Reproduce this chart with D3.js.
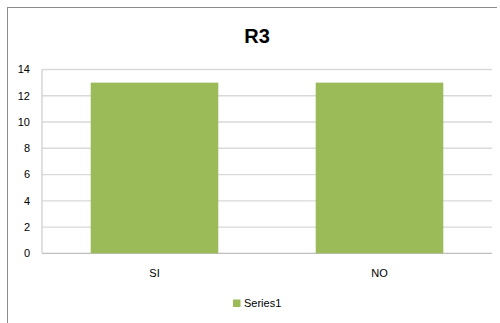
<!DOCTYPE html>
<html>
<head>
<meta charset="utf-8">
<script src="https://cdn.jsdelivr.net/npm/d3@7"></script>
<style>
  body { margin: 0; background: #fff; }
  svg { display: block; }
</style>
</head>
<body>
<script>
// chart data
var categories = ["SI", "NO"];
var values = [13, 13];
var yTicks = [0, 2, 4, 6, 8, 10, 12, 14];
var seriesName = "Series1";
var title = "R3";

var width = 500, height = 323;
var margin = {top: 69.5, left: 42, right: 8, bottom: 69.7};
var font = "Liberation Sans, Arial, sans-serif";

var svg = d3.select("body").append("svg")
  .attr("width", width).attr("height", height);

// outer chart frame (only top and left visible in the crop)
svg.append("line").attr("x1", 7).attr("y1", 7.5).attr("x2", 497).attr("y2", 7.5)
  .attr("stroke", "#8c8c8c").attr("stroke-width", 1);
svg.append("line").attr("x1", 7.5).attr("y1", 7).attr("x2", 7.5).attr("y2", height)
  .attr("stroke", "#8c8c8c").attr("stroke-width", 1);

var x = d3.scaleBand().domain(categories)
  .range([margin.left, width - margin.right])
  .paddingInner(0.433).paddingOuter(0.2165);
var y = d3.scaleLinear().domain([0, 14])
  .range([height - margin.bottom, margin.top]);

// gridlines
svg.selectAll("line.grid").data(yTicks).enter().append("line")
  .attr("class", "grid")
  .attr("x1", margin.left).attr("x2", width - margin.right)
  .attr("y1", d => y(d)).attr("y2", d => y(d))
  .attr("stroke", d => d == 0 ? "#bfbfbf" : "#d9d9d9")
  .attr("stroke-width", 1.3);

// left axis line
svg.append("line").attr("x1", margin.left).attr("x2", margin.left)
  .attr("y1", y(14)).attr("y2", y(0))
  .attr("stroke", "#d0d0d0").attr("stroke-width", 1.3);

// bars
svg.selectAll("rect.bar").data(values).enter().append("rect")
  .attr("class", "bar")
  .attr("x", (d, i) => x(categories[i]))
  .attr("width", x.bandwidth())
  .attr("y", d => y(d))
  .attr("height", d => y(0) - y(d))
  .attr("fill", "#9bbb59");

// y tick labels
svg.selectAll("text.ytick").data(yTicks).enter().append("text")
  .attr("class", "ytick")
  .attr("x", 30).attr("y", d => y(d))
  .attr("dy", "0.36em")
  .attr("text-anchor", "end")
  .attr("font-family", font).attr("font-size", "11px")
  .attr("fill", "#000")
  .text(d => d);

// x labels
svg.selectAll("text.xlab").data(categories).enter().append("text")
  .attr("class", "xlab")
  .attr("x", d => x(d) + x.bandwidth() / 2)
  .attr("y", y(0) + 20)
  .attr("dy", "0.36em")
  .attr("text-anchor", "middle")
  .attr("font-family", font).attr("font-size", "11px")
  .attr("fill", "#000")
  .text(d => d);

// title
svg.append("text")
  .attr("x", 257).attr("y", 36)
  .attr("dy", "0.36em")
  .attr("text-anchor", "middle")
  .attr("font-family", font).attr("font-size", "20px").attr("font-weight", "bold")
  .attr("fill", "#000")
  .text(title);

// legend
var legend = svg.append("g");
legend.append("rect")
  .attr("x", 233).attr("y", 299.5).attr("width", 7.5).attr("height", 7.5)
  .attr("fill", "#9bbb59");
legend.append("text")
  .attr("x", 244).attr("y", 303.5)
  .attr("dy", "0.36em")
  .attr("font-family", font).attr("font-size", "11px")
  .attr("fill", "#000")
  .text(seriesName);
</script>
</body>
</html>
